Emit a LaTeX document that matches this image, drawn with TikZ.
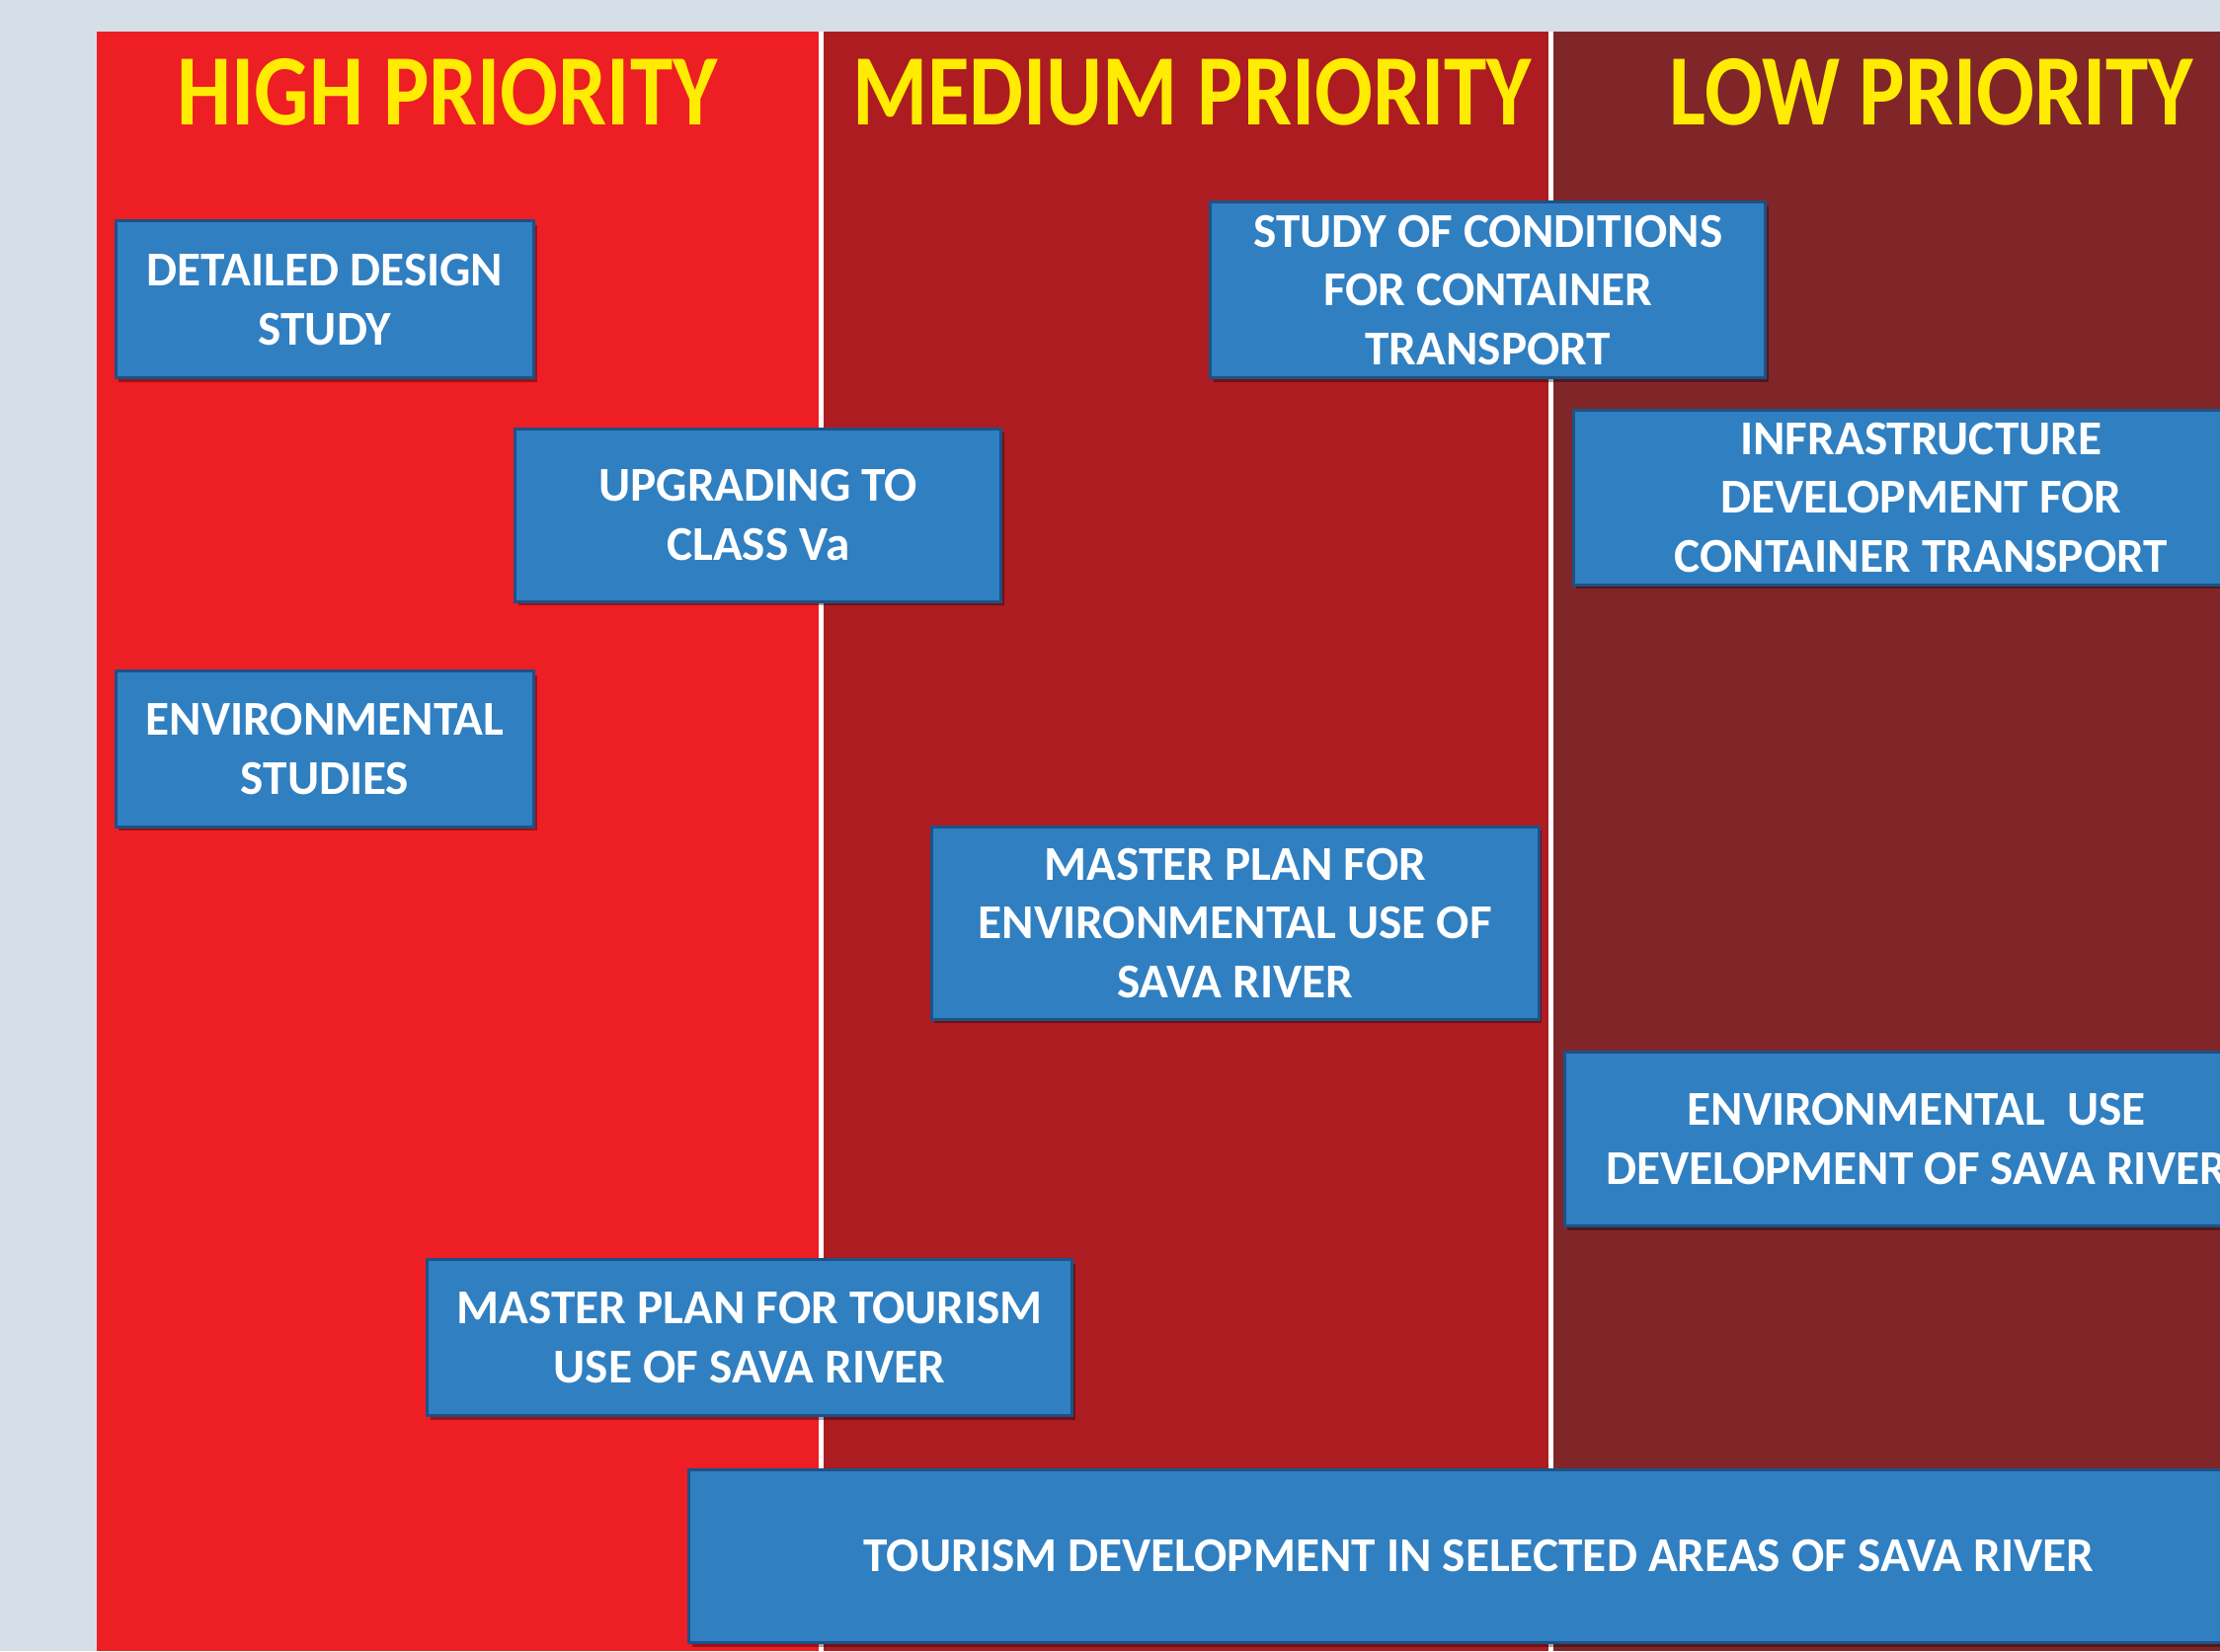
\documentclass[tikz,border=0pt]{standalone}
\usepackage{fontspec}
\setmainfont{Carlito}
\usetikzlibrary{shadows}
\definecolor{bgc}{RGB}{214,222,232}
\definecolor{highc}{RGB}{237,30,36}
\definecolor{medc}{RGB}{173,28,33}
\definecolor{lowc}{RGB}{128,38,40}
\definecolor{boxblue}{RGB}{48,127,193}
\definecolor{boxline}{RGB}{28,82,135}
\definecolor{headyel}{RGB}{255,236,0}
\newcommand{\hdtxt}[1]{\scalebox{0.885}[1.04]{#1}}
\begin{document}
\begin{tikzpicture}[x=0.01cm,y=-0.01cm,
  divider/.style={white, line width=0.05cm},
  head/.style={text=headyel, font=\bfseries\fontsize{28}{32}\selectfont, inner sep=0},
  box/.style={draw=boxline, fill=boxblue, line width=0.03cm, text=white,
    font=\bfseries\fontsize{14}{17}\selectfont, align=center, inner sep=0,
    drop shadow={shadow xshift=0.03cm, shadow yshift=-0.04cm, fill=black, opacity=0.35}}]
\useasboundingbox (0,0) rectangle (2248,1672);
\clip (0,0) rectangle (2248,1672);
\fill[bgc] (0,0) rectangle (2248,1672);
\fill[highc] (97.5,31.5) rectangle (831.5,1672);
\fill[medc] (831.5,31.5) rectangle (1570,1672);
\fill[lowc] (1570,31.5) rectangle (2248,1672);
\coordinate (d1t) at (831.5,31.5);
\coordinate (d1b) at (831.5,1672);
\coordinate (d2t) at (1570,31.5);
\coordinate (d2b) at (1570,1672);
\draw[divider] (d1t) -- (d1b);
\draw[divider] (d2t) -- (d2b);

\node[head] (hhigh) at (453,93) {\hdtxt{HIGH PRIORITY}};
\node[head] (hmed) at (1207,93) {\hdtxt{MEDIUM PRIORITY}};
\node[head] (hlow) at (1956,93) {\hdtxt{LOW PRIORITY}};

\node[box, minimum width=4.229cm, minimum height=1.591cm] (dds) at (329.05,303.25) {DETAILED DESIGN\\STUDY};
\node[box, minimum width=4.917cm, minimum height=1.749cm] (upg) at (767.75,521.85) {UPGRADING TO\\CLASS Va};
\node[box, minimum width=4.229cm, minimum height=1.577cm] (env) at (329.05,758.45) {ENVIRONMENTAL\\STUDIES};
\node[box, minimum width=5.62cm, minimum height=1.778cm] (soc) at (1506.8,293.9) {STUDY OF CONDITIONS\\FOR CONTAINER\\TRANSPORT};
\node[box, minimum width=7.044cm, minimum height=1.763cm] (infra) at (1945.4,503.95) {INFRASTRUCTURE\\DEVELOPMENT FOR\\CONTAINER TRANSPORT};
\node[box, minimum width=6.148cm, minimum height=1.95cm] (mpenv) at (1250.8,934.8) {MASTER PLAN FOR\\ENVIRONMENTAL USE OF\\SAVA RIVER};
\node[box, minimum width=7.128cm, minimum height=1.764cm] (envdev) at (1940.6,1153.4) {ENVIRONMENTAL~~USE\\DEVELOPMENT OF SAVA RIVER};
\node[box, minimum width=6.523cm, minimum height=1.577cm] (mptour) at (759.15,1354.85) {MASTER PLAN FOR TOURISM\\USE OF SAVA RIVER};
\node[box, minimum width=15.988cm, minimum height=1.753cm] (tourdev) at (1497.6,1575.85) {TOURISM DEVELOPMENT IN SELECTED AREAS OF SAVA RIVER};
\end{tikzpicture}
\end{document}
